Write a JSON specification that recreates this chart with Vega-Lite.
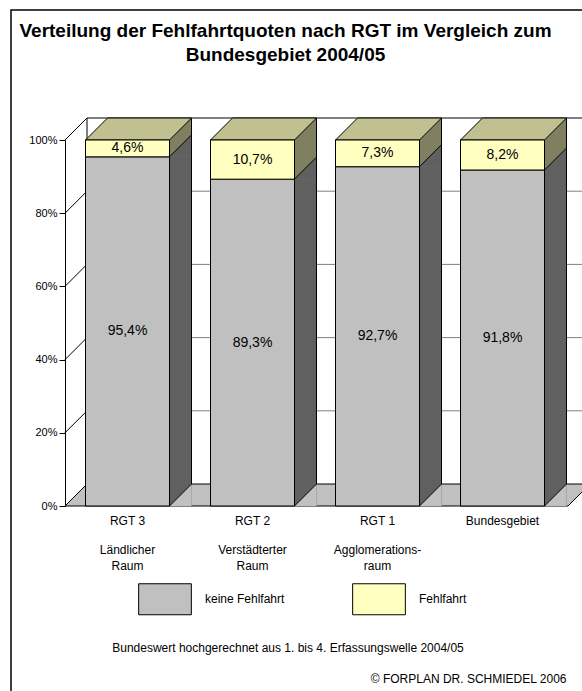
{
  "$schema": "https://vega.github.io/schema/vega-lite/v6.json",
  "width": 571,
  "height": 681,
  "autosize": {"type": "none"},
  "padding": {"left": 11, "top": 10, "right": 0, "bottom": 0},
  "background": "white",
  "config": {
    "view": {"stroke": "black", "strokeWidth": 1.5, "strokeDash": [571, 1252, 681]},
    "font": "Liberation Sans",
    "axis": {"labelFont": "Liberation Sans", "titleFont": "Liberation Sans", "labelColor": "black", "titleColor": "black"},
    "legend": {"labelFont": "Liberation Sans", "labelColor": "black"}
  },
  "title": {
    "text": ["Verteilung der Fehlfahrtquoten nach RGT im Vergleich zum", "Bundesgebiet 2004/05"],
    "anchor": "middle", "frame": "group", "orient": "top", "baseline": "top",
    "offset": -54.5, "dx": -11, "fontSize": 19, "fontWeight": "bold",
    "font": "Liberation Sans", "color": "black", "lineHeight": 24
  },
  "datasets": {
    "bars": [
      {"cat": "RGT 3", "type": "keine Fehlfahrt", "value": 95.4},
      {"cat": "RGT 3", "type": "Fehlfahrt", "value": 4.6},
      {"cat": "RGT 2", "type": "keine Fehlfahrt", "value": 89.3},
      {"cat": "RGT 2", "type": "Fehlfahrt", "value": 10.7},
      {"cat": "RGT 1", "type": "keine Fehlfahrt", "value": 92.7},
      {"cat": "RGT 1", "type": "Fehlfahrt", "value": 7.3},
      {"cat": "Bundesgebiet", "type": "keine Fehlfahrt", "value": 91.8},
      {"cat": "Bundesgebiet", "type": "Fehlfahrt", "value": 8.2}
    ],
    "ticks": [{"t": 20}, {"t": 40}, {"t": 60}, {"t": 80}, {"t": 100}]
  },
  "data": {"name": "bars"},
  "transform": [
    {"stack": "value", "groupby": ["cat"], "sort": [{"field": "type", "order": "descending"}], "as": ["v0", "v1"]},
    {"calculate": "(datum.v0 + datum.v1) / 2", "as": "mid"},
    {"calculate": "replace(format(datum.value, '.1f'), '.', ',') + '%'", "as": "label"}
  ],
  "resolve": {"axis": {"x": "independent", "y": "independent"}},
  "layer": [
    {
      "data": {"name": "ticks"},
      "mark": {"type": "rule", "strokeWidth": 1, "xOffset": 1.5, "x2Offset": 140, "yOffset": -22},
      "encoding": {
        "x": {"datum": "RGT 3", "type": "nominal", "bandPosition": 0, "axis": null,
              "scale": {"type": "band", "domain": ["RGT 3", "RGT 2", "RGT 1", "Bundesgebiet"], "range": [54, 554], "paddingInner": 0.328, "paddingOuter": 0.164}},
        "x2": {"datum": "Bundesgebiet"},
        "y": {"field": "t", "type": "quantitative", "scale": {"domain": [0, 100], "range": [496, 130], "nice": false}, "axis": null},
        "color": {"condition": {"test": "datum.t == 100", "value": "black"}, "value": "#808080"}
      }
    },
    {
      "data": {"name": "ticks"},
      "transform": [{"filter": "datum.t == 100"}],
      "mark": {"type": "rule", "color": "black", "strokeWidth": 1, "xOffset": 1.5, "yOffset": -22, "y2Offset": -22},
      "encoding": {
        "x": {"datum": "RGT 3", "type": "nominal", "bandPosition": 0, "axis": null},
        "y": {"datum": 0, "type": "quantitative", "axis": null},
        "y2": {"datum": 100}
      }
    },
    {
      "data": {"name": "ticks"},
      "mark": {"type": "point", "shape": "M-20.5,0L1.5,-22", "size": 4, "filled": false, "stroke": "black", "strokeWidth": 1, "opacity": 1},
      "encoding": {
        "x": {"datum": "RGT 3", "type": "nominal", "bandPosition": 0, "axis": null},
        "y": {"field": "t", "type": "quantitative", "axis": null}
      }
    },
    {
      "data": {"name": "ticks"},
      "transform": [{"filter": "datum.t == 100"}],
      "mark": {"type": "point", "shape": "M-20.5,0H482.5L504.5,-22H1.5Z", "size": 4, "filled": true, "fill": "#C0C0C0", "stroke": "black", "strokeWidth": 1, "opacity": 1},
      "encoding": {
        "x": {"datum": "RGT 3", "type": "nominal", "bandPosition": 0, "axis": null},
        "y": {"datum": 0, "type": "quantitative", "axis": null}
      }
    },
    {
      "transform": [{"filter": "datum.type == 'keine Fehlfahrt'"}],
      "mark": {"type": "rule", "color": "#606060", "strokeWidth": 22, "strokeCap": "butt", "xOffset": 11, "yOffset": -22},
      "encoding": {
        "x": {"field": "cat", "type": "nominal", "bandPosition": 1, "axis": null},
        "y": {"field": "v1", "type": "quantitative", "axis": null},
        "y2": {"field": "v0"}
      }
    },
    {
      "transform": [{"filter": "datum.type == 'Fehlfahrt'"}],
      "mark": {"type": "rule", "color": "#808060", "strokeWidth": 22, "strokeCap": "butt", "xOffset": 11, "yOffset": -22},
      "encoding": {
        "x": {"field": "cat", "type": "nominal", "bandPosition": 1, "axis": null},
        "y": {"field": "v1", "type": "quantitative", "axis": null},
        "y2": {"field": "v0"}
      }
    },
    {
      "transform": [{"filter": "datum.type == 'keine Fehlfahrt'"}],
      "mark": {"type": "point", "shape": "M0,0H22V-22Z", "size": 4, "filled": true, "fill": "#606060", "strokeWidth": 0, "opacity": 1},
      "encoding": {
        "x": {"field": "cat", "type": "nominal", "bandPosition": 1, "axis": null},
        "y": {"field": "v1", "type": "quantitative", "axis": null}
      }
    },
    {
      "transform": [{"filter": "datum.type == 'keine Fehlfahrt'"}],
      "mark": {"type": "point", "shape": "M0,0H22V-22Z", "size": 4, "filled": true, "fill": "#C0C0C0", "strokeWidth": 0, "opacity": 1},
      "encoding": {
        "x": {"field": "cat", "type": "nominal", "bandPosition": 1, "axis": null},
        "y": {"field": "v0", "type": "quantitative", "axis": null}
      }
    },
    {
      "transform": [{"filter": "datum.type == 'Fehlfahrt'"}],
      "mark": {"type": "point", "shape": "M0,0H84L106,-22H22Z", "size": 4, "filled": true, "fill": "#C0C090", "stroke": "black", "strokeWidth": 1, "opacity": 1},
      "encoding": {
        "x": {"field": "cat", "type": "nominal", "bandPosition": 0, "axis": null},
        "y": {"field": "v1", "type": "quantitative", "axis": null}
      }
    },
    {
      "transform": [{"filter": "datum.type == 'keine Fehlfahrt'"}],
      "mark": {"type": "rule", "color": "black", "strokeWidth": 1, "xOffset": 22, "yOffset": -22, "y2Offset": -22},
      "encoding": {
        "x": {"field": "cat", "type": "nominal", "bandPosition": 1, "axis": null},
        "y": {"datum": 0, "type": "quantitative", "axis": null},
        "y2": {"datum": 100}
      }
    },
    {
      "transform": [{"filter": "datum.type == 'keine Fehlfahrt'"}],
      "mark": {"type": "point", "shape": "M0,0L22,-22", "size": 4, "filled": false, "stroke": "black", "strokeWidth": 1, "opacity": 1},
      "encoding": {
        "x": {"field": "cat", "type": "nominal", "bandPosition": 1, "axis": null},
        "y": {"field": "v1", "type": "quantitative", "axis": null}
      }
    },
    {
      "transform": [{"filter": "datum.type == 'keine Fehlfahrt'"}],
      "mark": {"type": "point", "shape": "M0,0L22,-22", "size": 4, "filled": false, "stroke": "black", "strokeWidth": 1, "opacity": 1},
      "encoding": {
        "x": {"field": "cat", "type": "nominal", "bandPosition": 1, "axis": null},
        "y": {"field": "v0", "type": "quantitative", "axis": null}
      }
    },
    {
      "mark": {"type": "bar", "stroke": "black", "strokeWidth": 1, "opacity": 1},
      "encoding": {
        "x": {"field": "cat", "type": "nominal",
              "axis": {"orient": "bottom", "offset": -185, "domain": false, "ticks": false, "tickSize": 0, "labelPadding": 9,
                       "labelFontSize": 12, "labelAngle": 0, "labelOverlap": false, "grid": false,
                       "title": "Bundeswert hochgerechnet aus 1. bis 4. Erfassungswelle 2004/05",
                       "titleX": 276.5, "titleY": 141, "titleBaseline": "middle", "titleAlign": "center",
                       "titleFontSize": 12, "titleFontWeight": "normal"}},
        "y": {"field": "v1", "type": "quantitative",
              "axis": {"orient": "left", "offset": -54, "values": [0, 20, 40, 60, 80, 100], "labelExpr": "datum.value + '%'",
                       "tickSize": 6, "labelPadding": 2, "labelFontSize": 11, "domainColor": "black", "tickColor": "black",
                       "grid": false, "title": null, "zindex": 1}},
        "y2": {"field": "v0"},
        "color": {"field": "type", "type": "nominal",
                  "scale": {"domain": ["keine Fehlfahrt", "Fehlfahrt"], "range": ["#C0C0C0", "#FFFFC0"]},
                  "legend": {"title": null, "orient": "none", "legendX": 138, "legendY": 573, "direction": "horizontal",
                             "symbolType": "M-1.7,-1H1.7V1H-1.7Z", "symbolSize": 961, "symbolStrokeColor": "black",
                             "symbolStrokeWidth": 1, "symbolOpacity": 1, "labelFontSize": 12, "labelOffset": 24,
                             "columnPadding": 65, "padding": 0}}
      }
    },
    {
      "mark": {"type": "text", "fontSize": 14, "font": "Liberation Sans", "color": "black"},
      "encoding": {
        "x": {"field": "cat", "type": "nominal",
              "axis": {"orient": "bottom", "offset": -185, "domain": false, "ticks": false, "tickSize": 0, "labelPadding": 38,
                       "labelFontSize": 12, "labelLineHeight": 16.5, "labelAngle": 0, "labelOverlap": false, "grid": false,
                       "labelExpr": "datum.value == 'RGT 3' ? ['Ländlicher', 'Raum'] : datum.value == 'RGT 2' ? ['Verstädterter', 'Raum'] : datum.value == 'RGT 1' ? ['Agglomerations-', 'raum'] : ''",
                       "title": "© FORPLAN DR. SCHMIEDEL 2006",
                       "titleX": 555, "titleY": 172, "titleBaseline": "middle", "titleAlign": "right",
                       "titleFontSize": 12, "titleFontWeight": "normal"}},
        "y": {"field": "mid", "type": "quantitative", "axis": null},
        "text": {"field": "label"}
      }
    }
  ]
}
